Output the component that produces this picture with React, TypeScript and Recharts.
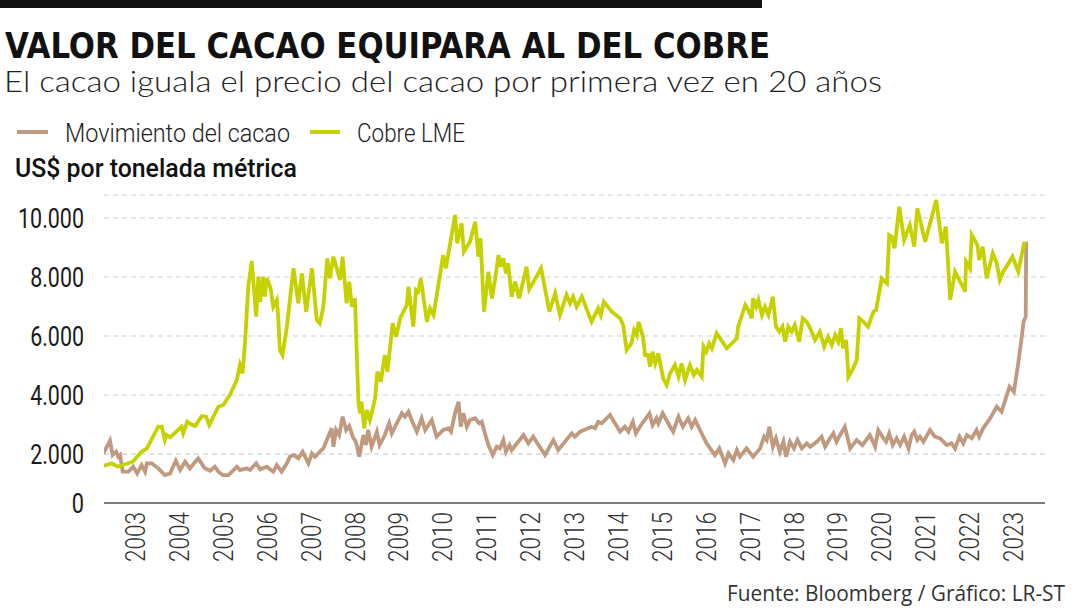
import React from "react";
import { LineChart, Line, XAxis, YAxis, CartesianGrid } from "recharts";

// fractional years (label "2003" sits at 2003)
const copperYears = [
  2002.28, 2002.47, 2002.61, 2002.73, 2002.95, 2003.15, 2003.27, 2003.53, 2003.61, 2003.68,
  2003.72, 2003.8, 2004.06, 2004.1, 2004.19, 2004.27, 2004.37, 2004.52, 2004.62, 2004.69,
  2004.9, 2005.01, 2005.16, 2005.32, 2005.39, 2005.45, 2005.51, 2005.58, 2005.66, 2005.73,
  2005.76, 2005.81, 2005.85, 2005.92, 2005.96, 2006.0, 2006.08, 2006.15, 2006.23, 2006.26,
  2006.3, 2006.36, 2006.46, 2006.61, 2006.72, 2006.8, 2006.9, 2007.03, 2007.14, 2007.21,
  2007.29, 2007.38, 2007.44, 2007.52, 2007.67, 2007.73, 2007.82, 2007.88, 2007.94, 2008.01,
  2008.09, 2008.13, 2008.16, 2008.22, 2008.28, 2008.35, 2008.47, 2008.52, 2008.6, 2008.69,
  2008.75, 2008.87, 2008.95, 2009.04, 2009.19, 2009.23, 2009.34, 2009.4, 2009.45, 2009.51,
  2009.65, 2009.72, 2009.8, 2010.02, 2010.08, 2010.18, 2010.29, 2010.34, 2010.44, 2010.49,
  2010.63, 2010.75, 2010.82, 2010.87, 2010.95, 2011.05, 2011.13, 2011.2, 2011.28, 2011.33,
  2011.39, 2011.45, 2011.5, 2011.58, 2011.66, 2011.75, 2011.92, 2011.98, 2012.25, 2012.44,
  2012.57, 2012.68, 2012.83, 2012.91, 2012.98, 2013.06, 2013.18, 2013.4, 2013.55, 2013.61,
  2013.68, 2013.86, 2014.05, 2014.12, 2014.2, 2014.31, 2014.37, 2014.43, 2014.47, 2014.57,
  2014.62, 2014.69, 2014.73, 2014.79, 2014.85, 2014.92, 2015.03, 2015.11, 2015.19, 2015.3,
  2015.38, 2015.45, 2015.53, 2015.64, 2015.73, 2015.8, 2015.91, 2015.95, 2016.01, 2016.08,
  2016.14, 2016.25, 2016.48, 2016.71, 2016.74, 2016.84, 2016.9, 2016.97, 2017.05, 2017.08,
  2017.15, 2017.2, 2017.28, 2017.35, 2017.43, 2017.53, 2017.6, 2017.68, 2017.75, 2017.81,
  2017.88, 2017.96, 2018.03, 2018.13, 2018.21, 2018.3, 2018.38, 2018.49, 2018.6, 2018.7,
  2018.79, 2018.87, 2018.95, 2019.02, 2019.08, 2019.13, 2019.2, 2019.25, 2019.36, 2019.44,
  2019.5, 2019.58, 2019.7, 2019.82, 2019.88, 2020.01, 2020.13, 2020.18, 2020.24, 2020.3,
  2020.41, 2020.52, 2020.65, 2020.75, 2020.82, 2021.0, 2021.25, 2021.38, 2021.47, 2021.57,
  2021.68, 2021.91, 2021.93, 2022.02, 2022.06, 2022.19, 2022.23, 2022.31, 2022.4, 2022.54,
  2022.63, 2022.7, 2022.78, 2022.99, 2023.12, 2023.26,
];

const copperValues = [
  1593, 1685, 1570, 1627, 1740, 2078, 2192, 2926, 2926, 2475,
  2644, 2566, 2926, 2702, 3095, 3017, 2949, 3288, 3265, 2983,
  3604, 3661, 4000, 4509, 5017, 4736, 5865, 7672, 8543, 7221,
  6655, 8011, 7163, 8011, 7333, 7956, 7672, 6994, 7221, 6712,
  5526, 5356, 6316, 8295, 7109, 8126, 6824, 8295, 6543, 6431,
  6994, 8634, 7956, 8690, 7899, 8690, 7109, 7841, 6994, 7278,
  3718, 3380, 3773, 2871, 3492, 3153, 3888, 4790, 4451, 5356,
  4790, 6431, 5977, 6600, 7051, 7672, 6316, 7560, 7502, 7956,
  6485, 6939, 6712, 8746, 8295, 9143, 10102, 9143, 9821, 8859,
  9197, 9875, 8690, 9312, 6824, 8180, 7278, 7899, 8746, 8350,
  8634, 8126, 8465, 7333, 7841, 7278, 8350, 7583, 8295, 6824,
  7448, 6712, 7390, 7109, 7333, 6994, 7333, 6485, 6939, 6712,
  7163, 6824, 6600, 6373, 5526, 5753, 6204, 6034, 6485, 5977,
  5356, 5356, 4960, 5468, 5075, 5414, 4566, 4339, 4736, 5017,
  4621, 5075, 4509, 5017, 4678, 4848, 4621, 5638, 5468, 5753,
  5583, 6092, 5583, 5922, 6316, 6770, 7051, 6882, 6600, 7278,
  6994, 7221, 6712, 6994, 6712, 7333, 6316, 6146, 6316, 5809,
  6316, 6146, 6373, 5809, 6600, 6485, 6261, 5865, 6146, 5638,
  5977, 5695, 6034, 5809, 6261, 5583, 5865, 4621, 4905, 5187,
  6600, 6500, 6316, 6824, 6882, 7956, 7787, 9424, 9367, 8973,
  10384, 9255, 9763, 9028, 10329, 9197, 10611, 9143, 9706, 7221,
  8180, 7502, 8520, 8295, 9424, 9085, 8577, 9028, 7956, 8804,
  8465, 7899, 8180, 8690, 8180, 9197,
];

const cacaoYears = [
  2002.28, 2002.43, 2002.49, 2002.57, 2002.62, 2002.66, 2002.72, 2002.85, 2002.96, 2003.05,
  2003.15, 2003.23, 2003.27, 2003.38, 2003.53, 2003.68, 2003.8, 2003.93, 2004.03, 2004.14,
  2004.25, 2004.44, 2004.59, 2004.71, 2004.82, 2004.9, 2005.0, 2005.13, 2005.32, 2005.39,
  2005.54, 2005.62, 2005.76, 2005.85, 2006.0, 2006.15, 2006.23, 2006.34, 2006.46, 2006.53,
  2006.61, 2006.72, 2006.82, 2006.95, 2007.03, 2007.1, 2007.21, 2007.29, 2007.4, 2007.48,
  2007.52, 2007.58, 2007.65, 2007.73, 2007.81, 2007.88, 2007.96, 2008.03, 2008.11, 2008.2,
  2008.26, 2008.31, 2008.39, 2008.51, 2008.57, 2008.69, 2008.79, 2008.85, 2009.0, 2009.08,
  2009.15, 2009.23, 2009.3, 2009.42, 2009.53, 2009.61, 2009.76, 2009.87, 2010.02, 2010.14,
  2010.2, 2010.29, 2010.37, 2010.42, 2010.48, 2010.56, 2010.63, 2010.75, 2010.84, 2010.9,
  2010.97, 2011.05, 2011.15, 2011.24, 2011.31, 2011.39, 2011.45, 2011.53, 2011.58, 2011.85,
  2011.96, 2012.07, 2012.34, 2012.53, 2012.64, 2012.95, 2013.02, 2013.14, 2013.4, 2013.48,
  2013.55, 2013.63, 2013.82, 2014.05, 2014.16, 2014.24, 2014.34, 2014.41, 2014.5, 2014.72,
  2014.79, 2014.88, 2014.92, 2015.02, 2015.19, 2015.26, 2015.38, 2015.48, 2015.6, 2015.68,
  2015.76, 2015.87, 2016.02, 2016.21, 2016.31, 2016.44, 2016.52, 2016.63, 2016.71, 2016.78,
  2016.93, 2017.08, 2017.24, 2017.33, 2017.39, 2017.45, 2017.53, 2017.6, 2017.69, 2017.77,
  2017.83, 2017.92, 2018.01, 2018.09, 2018.19, 2018.3, 2018.38, 2018.53, 2018.64, 2018.72,
  2018.83, 2018.91, 2018.98, 2019.06, 2019.17, 2019.29, 2019.44, 2019.57, 2019.63, 2019.74,
  2019.86, 2019.93, 2020.05, 2020.11, 2020.18, 2020.26, 2020.35, 2020.43, 2020.52, 2020.62,
  2020.69, 2020.75, 2020.82, 2020.88, 2020.96, 2021.11, 2021.22, 2021.34, 2021.49, 2021.6,
  2021.68, 2021.78, 2021.87, 2021.95, 2022.06, 2022.17, 2022.23, 2022.32, 2022.48, 2022.63,
  2022.74, 2022.92, 2023.02, 2023.12, 2023.2, 2023.24, 2023.29, 2023.3,
];

const cacaoValues = [
  2022, 2452, 1966, 2078, 1910, 1966, 1401, 1401, 1570, 1345,
  1627, 1401, 1685, 1685, 1515, 1288, 1345, 1774, 1458, 1740,
  1515, 1854, 1515, 1435, 1570, 1401, 1288, 1288, 1570, 1458,
  1515, 1458, 1685, 1481, 1570, 1401, 1627, 1401, 1685, 1910,
  1966, 1854, 2078, 1685, 2022, 1910, 2078, 2192, 2588, 2871,
  2248, 2814, 2644, 3265, 2814, 2949, 2588, 2417, 1910, 2644,
  2305, 2814, 2248, 2757, 2305, 2644, 3041, 2702, 3153, 3380,
  3265, 3434, 3153, 2757, 3210, 2814, 3153, 2588, 2814, 2871,
  2757, 3380, 3773, 2926, 3380, 2926, 3153, 3210, 3041, 3095,
  2702, 2305, 1966, 2248, 2192, 2475, 2078, 2305, 2136, 2644,
  2363, 2588, 1966, 2475, 2136, 2702, 2588, 2757, 2926, 2871,
  3095, 3041, 3322, 2757, 2926, 2757, 3095, 2702, 2926, 3380,
  2983, 3210, 3041, 3380, 2926, 2757, 3265, 2926, 3210, 2926,
  3153, 2814, 2363, 1966, 2192, 1685, 2022, 1797, 2136, 1910,
  2192, 1910, 2192, 2588, 2475, 2926, 2248, 2532, 2078, 2417,
  1910, 2417, 2192, 2475, 2192, 2363, 2248, 2417, 2588, 2248,
  2532, 2702, 2417, 2644, 2926, 2192, 2475, 2300, 2417, 2644,
  2248, 2814, 2532, 2417, 2702, 2305, 2532, 2305, 2588, 2192,
  2644, 2757, 2475, 2588, 2417, 2814, 2588, 2532, 2305, 2363,
  2192, 2588, 2363, 2644, 2532, 2814, 2588, 2871, 3210, 3604,
  3434, 4282, 4112, 5075, 5977, 6485, 6655, 9197,
];

const yearTicks = [
  2003, 2004, 2005, 2006, 2007, 2008, 2009, 2010, 2011, 2012, 2013,
  2014, 2015, 2016, 2017, 2018, 2019, 2020, 2021, 2022, 2023,
];
// the baseline of the original sits a little above true zero and is labelled "0"
const valueTicks = [340, 2000, 4000, 6000, 8000, 10000];

const copperData = copperYears.map((t, i) => ({ t, v: copperValues[i] }));
const cacaoData = cacaoYears.map((t, i) => ({ t, v: cacaoValues[i] }));

const CACAO = "#bf9a80";
const COPPER = "#c6d100";
const NARROW = "'Liberation Sans Narrow', 'DejaVu Sans Condensed', Roboto, sans-serif";

const fmt = (v: number) => (v < 1000 ? "0" : String(v).replace(/\B(?=(\d{3})+(?!\d))/g, "."));

function YearTick(props: any) {
  const { x, y, payload } = props;
  return (
    <text
      x={x}
      y={y}
      dy="0.36em"
      transform={`rotate(-90 ${x} ${y})`}
      textAnchor="end"
      fontFamily="Roboto, sans-serif"
      fontWeight={300}
      fontSize={28}
      fill="#333"
      textLength={50}
      lengthAdjust="spacingAndGlyphs"
    >
      {payload.value}
    </text>
  );
}

function ValueTick(props: any) {
  const { x, y, payload } = props;
  const label = fmt(payload.value);
  const digits = label.replace(".", "").length;
  const len = digits * 12.2 + (label.includes(".") ? 5 : 0);
  return (
    <text
      x={x}
      y={y}
      dy="0.36em"
      textAnchor="end"
      fontFamily="Roboto, sans-serif"
      fontSize={27}
      fill="#1a1a1a"
      textLength={len}
      lengthAdjust="spacingAndGlyphs"
    >
      {label}
    </text>
  );
}

export default function App() {
  return (
    <div style={{ position: "relative", width: 1080, height: 608, background: "#fff", overflow: "hidden" }}>
      <style>{`body{margin:0}`}</style>
      <LineChart
        width={1080}
        height={608}
        margin={{ top: 195, right: 35, bottom: 40, left: 0 }}
      >
        <CartesianGrid vertical={false} stroke="#cfcfcf" strokeDasharray="5 4" strokeWidth={1.2} />
        <XAxis
          type="number"
          dataKey="t"
          domain={[2002.294, 2023.729]}
          ticks={yearTicks}
          allowDataOverflow
          tickLine={false}
          tickSize={0}
          tickMargin={9}
          height={65}
          axisLine={{ stroke: "#7d7d7d", strokeWidth: 2 }}
          tick={<YearTick />}
        />
        <YAxis
          type="number"
          domain={[340, 10780]}
          ticks={valueTicks}
          allowDataOverflow
          width={104}
          axisLine={false}
          tickLine={false}
          tickMargin={14}
          tick={<ValueTick />}
        />
        <Line
          data={cacaoData}
          dataKey="v"
          type="linear"
          stroke={CACAO}
          strokeWidth={3.8}
          dot={false}
          isAnimationActive={false}
        />
        <Line
          data={copperData}
          dataKey="v"
          type="linear"
          stroke={COPPER}
          strokeWidth={3.8}
          dot={false}
          isAnimationActive={false}
        />
      </LineChart>
      <svg width={1080} height={608} style={{ position: "absolute", left: 0, top: 0, pointerEvents: "none" }}>
        <rect x={0} y={0} width={762} height={8} fill="#111" />
        <text x={5} y={58} fontFamily={NARROW} fontWeight="bold" fontSize={36} fill="#111" textLength={765} lengthAdjust="spacingAndGlyphs">
          VALOR DEL CACAO EQUIPARA AL DEL COBRE
        </text>
        <text x={4} y={92} fontFamily="Lato, 'Open Sans', sans-serif" fontWeight={300} fontSize={29} fill="#222" textLength={878} lengthAdjust="spacingAndGlyphs">
          El cacao iguala el precio del cacao por primera vez en 20 años
        </text>
        <line x1={17} x2={48} y1={132} y2={132} stroke={CACAO} strokeWidth={4} />
        <text x={65} y={142} fontFamily="Roboto, sans-serif" fontWeight={300} fontSize={25} fill="#222" textLength={225} lengthAdjust="spacingAndGlyphs">
          Movimiento del cacao
        </text>
        <line x1={310} x2={340} y1={132} y2={132} stroke={COPPER} strokeWidth={4} />
        <text x={357} y={142} fontFamily="Roboto, sans-serif" fontWeight={300} fontSize={25} fill="#222" textLength={108} lengthAdjust="spacingAndGlyphs">
          Cobre LME
        </text>
        <text x={15} y={177} fontFamily="Roboto, sans-serif" fontWeight={500} fontSize={25} fill="#111" textLength={282} lengthAdjust="spacingAndGlyphs">
          US$ por tonelada métrica
        </text>
        <text x={1065} y={601} textAnchor="end" fontFamily="'Open Sans', sans-serif" fontSize={21} fill="#333" textLength={338} lengthAdjust="spacingAndGlyphs">
          Fuente: Bloomberg / Gráfico: LR-ST
        </text>
      </svg>
    </div>
  );
}
